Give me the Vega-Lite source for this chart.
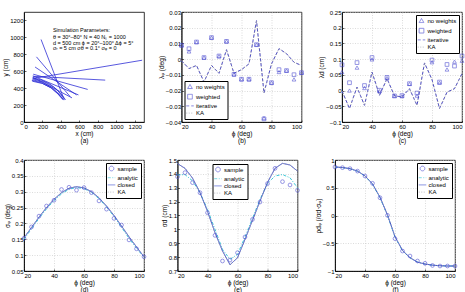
{
  "$schema": "https://vega.github.io/schema/vega-lite/v6.json",
  "padding": {"left": 2, "top": 8, "right": 0, "bottom": 0},
  "spacing": 12,
  "config": {
    "font": "Liberation Sans",
    "view": {"stroke": "black", "strokeWidth": 0.8},
    "axis": {
      "labelFontSize": 6, "titleFontSize": 6.5, "titleFontWeight": "normal",
      "labelColor": "black", "titleColor": "black",
      "domainColor": "black", "domainWidth": 0.8,
      "tickColor": "black", "tickSize": -2, "tickWidth": 0.6,
      "labelPadding": 3, "titlePadding": 1, "titleLineHeight": 7,
      "labelOverlap": false,
      "gridColor": "#c4c4c4", "gridDash": [1, 1.5], "gridWidth": 0.6
    },
    "legend": {
      "labelFontSize": 6, "labelColor": "black", "labelOffset": 3,
      "strokeColor": "black", "fillColor": "white", "padding": 2.5,
      "rowPadding": 1.2, "symbolSize": 22, "symbolStrokeWidth": 0.9,
      "offset": 3
    }
  },
  "resolve": {
    "scale": {"x": "independent", "y": "independent", "color": "independent", "shape": "independent", "strokeDash": "independent"},
    "legend": {"color": "independent", "shape": "independent", "strokeDash": "independent"}
  },
  "datasets": {
    "traj": [
      {"id": 1, "x": 100, "y": 515}, {"id": 1, "x": 1280, "y": 730},
      {"id": 2, "x": 185, "y": 975}, {"id": 2, "x": 430, "y": 280},
      {"id": 3, "x": 135, "y": 770}, {"id": 3, "x": 500, "y": 300},
      {"id": 4, "x": 120, "y": 650}, {"id": 4, "x": 570, "y": 320},
      {"id": 5, "x": 100, "y": 540}, {"id": 5, "x": 880, "y": 495},
      {"id": 6, "x": 100, "y": 565}, {"id": 6, "x": 690, "y": 385},
      {"id": 7, "x": 95, "y": 545}, {"id": 7, "x": 590, "y": 320},
      {"id": 8, "x": 95, "y": 530}, {"id": 8, "x": 520, "y": 285},
      {"id": 9, "x": 90, "y": 520}, {"id": 9, "x": 180, "y": 500}, {"id": 9, "x": 280, "y": 450}, {"id": 9, "x": 360, "y": 380}, {"id": 9, "x": 440, "y": 265},
      {"id": 10, "x": 90, "y": 500}, {"id": 10, "x": 200, "y": 470}, {"id": 10, "x": 300, "y": 410}, {"id": 10, "x": 380, "y": 330}, {"id": 10, "x": 430, "y": 258},
      {"id": 11, "x": 90, "y": 482}, {"id": 11, "x": 200, "y": 455}, {"id": 11, "x": 300, "y": 400}, {"id": 11, "x": 370, "y": 330}, {"id": 11, "x": 420, "y": 270},
      {"id": 12, "x": 95, "y": 510}, {"id": 12, "x": 210, "y": 478}, {"id": 12, "x": 320, "y": 415}, {"id": 12, "x": 400, "y": 335}, {"id": 12, "x": 450, "y": 262},
      {"id": 13, "x": 85, "y": 492}, {"id": 13, "x": 190, "y": 462}, {"id": 13, "x": 290, "y": 405}, {"id": 13, "x": 360, "y": 340}, {"id": 13, "x": 425, "y": 262}
    ],
    "notes": [
      {"x": 313, "y": 1090, "t": "Simulation Parameters:"},
      {"x": 313, "y": 1003, "t": "θ  = 30°–80°   N = 40   Nₛ = 1000"},
      {"x": 313, "y": 936, "t": "d = 500 cm  ϕ = 20°–100°  Δϕ = 5°"},
      {"x": 313, "y": 872, "t": "σᵣ = 5 cm   σθ = 0.1°   σᵩ = 0"}
    ],
    "lamPhi": [
      {"phi": 20, "s": "no weights", "v": 0.0088}, {"phi": 25, "s": "no weights", "v": 0.0049}, {"phi": 30, "s": "no weights", "v": 0.0109}, {"phi": 35, "s": "no weights", "v": 0.001}, {"phi": 40, "s": "no weights", "v": 0.0137}, {"phi": 45, "s": "no weights", "v": 0.0018}, {"phi": 50, "s": "no weights", "v": 0.0113}, {"phi": 55, "s": "no weights", "v": -0.0097}, {"phi": 60, "s": "no weights", "v": -0.0128}, {"phi": 65, "s": "no weights", "v": -0.0128}, {"phi": 70, "s": "no weights", "v": 0.0092}, {"phi": 75, "s": "no weights", "v": -0.0375}, {"phi": 80, "s": "no weights", "v": -0.015}, {"phi": 85, "s": "no weights", "v": -0.0082}, {"phi": 90, "s": "no weights", "v": -0.0073}, {"phi": 95, "s": "no weights", "v": -0.0129}, {"phi": 100, "s": "no weights", "v": -0.0086},
      {"phi": 20, "s": "weighted", "v": 0.0088}, {"phi": 25, "s": "weighted", "v": 0.0066}, {"phi": 30, "s": "weighted", "v": 0.0109}, {"phi": 35, "s": "weighted", "v": 0.001}, {"phi": 40, "s": "weighted", "v": 0.0137}, {"phi": 45, "s": "weighted", "v": 0.002}, {"phi": 50, "s": "weighted", "v": 0.0113}, {"phi": 55, "s": "weighted", "v": -0.0097}, {"phi": 60, "s": "weighted", "v": -0.0128}, {"phi": 65, "s": "weighted", "v": -0.0128}, {"phi": 70, "s": "weighted", "v": 0.0092}, {"phi": 75, "s": "weighted", "v": -0.038}, {"phi": 80, "s": "weighted", "v": -0.015}, {"phi": 85, "s": "weighted", "v": -0.0067}, {"phi": 90, "s": "weighted", "v": -0.0073}, {"phi": 95, "s": "weighted", "v": -0.0099}, {"phi": 100, "s": "weighted", "v": -0.0086},
      {"phi": 20, "s": "iterative", "v": -0.001}, {"phi": 25, "s": "iterative", "v": -0.006}, {"phi": 30, "s": "iterative", "v": -0.004}, {"phi": 35, "s": "iterative", "v": -0.0145}, {"phi": 40, "s": "iterative", "v": -0.004}, {"phi": 45, "s": "iterative", "v": -0.009}, {"phi": 50, "s": "iterative", "v": 0.006}, {"phi": 55, "s": "iterative", "v": -0.009}, {"phi": 60, "s": "iterative", "v": -0.0067}, {"phi": 65, "s": "iterative", "v": -0.003}, {"phi": 70, "s": "iterative", "v": 0.0245}, {"phi": 75, "s": "iterative", "v": -0.0215}, {"phi": 80, "s": "iterative", "v": -0.003}, {"phi": 85, "s": "iterative", "v": 0.0067}, {"phi": 90, "s": "iterative", "v": 0.0035}, {"phi": 95, "s": "iterative", "v": -0.002}, {"phi": 100, "s": "iterative", "v": -0.004},
      {"phi": 20, "s": "KA", "v": -0.001}, {"phi": 25, "s": "KA", "v": -0.006}, {"phi": 30, "s": "KA", "v": -0.004}, {"phi": 35, "s": "KA", "v": -0.0145}, {"phi": 40, "s": "KA", "v": -0.004}, {"phi": 45, "s": "KA", "v": -0.009}, {"phi": 50, "s": "KA", "v": 0.006}, {"phi": 55, "s": "KA", "v": -0.009}, {"phi": 60, "s": "KA", "v": -0.0067}, {"phi": 65, "s": "KA", "v": -0.003}, {"phi": 70, "s": "KA", "v": 0.0245}, {"phi": 75, "s": "KA", "v": -0.0215}, {"phi": 80, "s": "KA", "v": -0.003}, {"phi": 85, "s": "KA", "v": 0.0067}, {"phi": 90, "s": "KA", "v": 0.0035}, {"phi": 95, "s": "KA", "v": -0.002}, {"phi": 100, "s": "KA", "v": -0.004}
    ],
    "lamD": [
      {"phi": 20, "s": "no weights", "v": 0.059}, {"phi": 25, "s": "no weights", "v": 0.0}, {"phi": 30, "s": "no weights", "v": 0.073}, {"phi": 35, "s": "no weights", "v": 0.008}, {"phi": 40, "s": "no weights", "v": 0.099}, {"phi": 45, "s": "no weights", "v": -0.002}, {"phi": 50, "s": "no weights", "v": 0.04}, {"phi": 55, "s": "no weights", "v": -0.017}, {"phi": 60, "s": "no weights", "v": -0.018}, {"phi": 65, "s": "no weights", "v": 0.021}, {"phi": 70, "s": "no weights", "v": -0.016}, {"phi": 80, "s": "no weights", "v": 0.09}, {"phi": 85, "s": "no weights", "v": 0.025}, {"phi": 90, "s": "no weights", "v": 0.067}, {"phi": 95, "s": "no weights", "v": 0.092}, {"phi": 100, "s": "no weights", "v": 0.095},
      {"phi": 20, "s": "weighted", "v": 0.082}, {"phi": 25, "s": "weighted", "v": 0.025}, {"phi": 30, "s": "weighted", "v": 0.089}, {"phi": 35, "s": "weighted", "v": 0.016}, {"phi": 40, "s": "weighted", "v": 0.105}, {"phi": 45, "s": "weighted", "v": 0.001}, {"phi": 50, "s": "weighted", "v": 0.042}, {"phi": 55, "s": "weighted", "v": -0.017}, {"phi": 60, "s": "weighted", "v": -0.016}, {"phi": 65, "s": "weighted", "v": 0.022}, {"phi": 70, "s": "weighted", "v": -0.008}, {"phi": 80, "s": "weighted", "v": 0.097}, {"phi": 85, "s": "weighted", "v": 0.027}, {"phi": 90, "s": "weighted", "v": 0.083}, {"phi": 95, "s": "weighted", "v": 0.078}, {"phi": 100, "s": "weighted", "v": 0.11},
      {"phi": 20, "s": "iterative", "v": -0.001}, {"phi": 25, "s": "iterative", "v": -0.057}, {"phi": 30, "s": "iterative", "v": 0.011}, {"phi": 35, "s": "iterative", "v": -0.047}, {"phi": 40, "s": "iterative", "v": 0.059}, {"phi": 45, "s": "iterative", "v": -0.015}, {"phi": 50, "s": "iterative", "v": 0.038}, {"phi": 55, "s": "iterative", "v": -0.017}, {"phi": 60, "s": "iterative", "v": -0.02}, {"phi": 65, "s": "iterative", "v": 0.006}, {"phi": 70, "s": "iterative", "v": -0.047}, {"phi": 75, "s": "iterative", "v": 0.088}, {"phi": 80, "s": "iterative", "v": 0.035}, {"phi": 85, "s": "iterative", "v": -0.057}, {"phi": 90, "s": "iterative", "v": -0.005}, {"phi": 95, "s": "iterative", "v": 0.006}, {"phi": 100, "s": "iterative", "v": 0.054},
      {"phi": 20, "s": "KA", "v": -0.001}, {"phi": 25, "s": "KA", "v": -0.057}, {"phi": 30, "s": "KA", "v": 0.011}, {"phi": 35, "s": "KA", "v": -0.047}, {"phi": 40, "s": "KA", "v": 0.059}, {"phi": 45, "s": "KA", "v": -0.015}, {"phi": 50, "s": "KA", "v": 0.038}, {"phi": 55, "s": "KA", "v": -0.017}, {"phi": 60, "s": "KA", "v": -0.02}, {"phi": 65, "s": "KA", "v": 0.006}, {"phi": 70, "s": "KA", "v": -0.047}, {"phi": 75, "s": "KA", "v": 0.088}, {"phi": 80, "s": "KA", "v": 0.035}, {"phi": 85, "s": "KA", "v": -0.057}, {"phi": 90, "s": "KA", "v": -0.005}, {"phi": 95, "s": "KA", "v": 0.006}, {"phi": 100, "s": "KA", "v": 0.054}
    ],
    "sigPhi": [
      {"phi": 20, "s": "sample", "v": 0.153}, {"phi": 25, "s": "sample", "v": 0.189}, {"phi": 30, "s": "sample", "v": 0.223}, {"phi": 35, "s": "sample", "v": 0.255}, {"phi": 40, "s": "sample", "v": 0.273}, {"phi": 45, "s": "sample", "v": 0.307}, {"phi": 50, "s": "sample", "v": 0.314}, {"phi": 55, "s": "sample", "v": 0.305}, {"phi": 60, "s": "sample", "v": 0.313}, {"phi": 65, "s": "sample", "v": 0.297}, {"phi": 70, "s": "sample", "v": 0.271}, {"phi": 75, "s": "sample", "v": 0.245}, {"phi": 80, "s": "sample", "v": 0.216}, {"phi": 85, "s": "sample", "v": 0.195}, {"phi": 90, "s": "sample", "v": 0.148}, {"phi": 95, "s": "sample", "v": 0.12}, {"phi": 100, "s": "sample", "v": 0.095},
      {"phi": 20, "s": "analytic", "v": 0.15}, {"phi": 25, "s": "analytic", "v": 0.183}, {"phi": 30, "s": "analytic", "v": 0.216}, {"phi": 35, "s": "analytic", "v": 0.246}, {"phi": 40, "s": "analytic", "v": 0.272}, {"phi": 45, "s": "analytic", "v": 0.293}, {"phi": 50, "s": "analytic", "v": 0.308}, {"phi": 55, "s": "analytic", "v": 0.313}, {"phi": 60, "s": "analytic", "v": 0.31}, {"phi": 65, "s": "analytic", "v": 0.298}, {"phi": 70, "s": "analytic", "v": 0.278}, {"phi": 75, "s": "analytic", "v": 0.252}, {"phi": 80, "s": "analytic", "v": 0.222}, {"phi": 85, "s": "analytic", "v": 0.188}, {"phi": 90, "s": "analytic", "v": 0.153}, {"phi": 95, "s": "analytic", "v": 0.122}, {"phi": 100, "s": "analytic", "v": 0.093},
      {"phi": 20, "s": "closed", "v": 0.155}, {"phi": 25, "s": "closed", "v": 0.187}, {"phi": 30, "s": "closed", "v": 0.22}, {"phi": 35, "s": "closed", "v": 0.25}, {"phi": 40, "s": "closed", "v": 0.276}, {"phi": 45, "s": "closed", "v": 0.297}, {"phi": 50, "s": "closed", "v": 0.311}, {"phi": 55, "s": "closed", "v": 0.316}, {"phi": 60, "s": "closed", "v": 0.312}, {"phi": 65, "s": "closed", "v": 0.3}, {"phi": 70, "s": "closed", "v": 0.281}, {"phi": 75, "s": "closed", "v": 0.255}, {"phi": 80, "s": "closed", "v": 0.225}, {"phi": 85, "s": "closed", "v": 0.192}, {"phi": 90, "s": "closed", "v": 0.158}, {"phi": 95, "s": "closed", "v": 0.126}, {"phi": 100, "s": "closed", "v": 0.095},
      {"phi": 20, "s": "KA", "v": 0.155}, {"phi": 25, "s": "KA", "v": 0.187}, {"phi": 30, "s": "KA", "v": 0.22}, {"phi": 35, "s": "KA", "v": 0.25}, {"phi": 40, "s": "KA", "v": 0.276}, {"phi": 45, "s": "KA", "v": 0.297}, {"phi": 50, "s": "KA", "v": 0.311}, {"phi": 55, "s": "KA", "v": 0.316}, {"phi": 60, "s": "KA", "v": 0.312}, {"phi": 65, "s": "KA", "v": 0.3}, {"phi": 70, "s": "KA", "v": 0.281}, {"phi": 75, "s": "KA", "v": 0.255}, {"phi": 80, "s": "KA", "v": 0.225}, {"phi": 85, "s": "KA", "v": 0.192}, {"phi": 90, "s": "KA", "v": 0.158}, {"phi": 95, "s": "KA", "v": 0.126}, {"phi": 100, "s": "KA", "v": 0.095}
    ],
    "sigD": [
      {"phi": 20, "s": "sample", "v": 1.38}, {"phi": 25, "s": "sample", "v": 1.409}, {"phi": 30, "s": "sample", "v": 1.337}, {"phi": 35, "s": "sample", "v": 1.264}, {"phi": 40, "s": "sample", "v": 1.12}, {"phi": 45, "s": "sample", "v": 0.957}, {"phi": 50, "s": "sample", "v": 0.772}, {"phi": 55, "s": "sample", "v": 0.779}, {"phi": 60, "s": "sample", "v": 0.832}, {"phi": 65, "s": "sample", "v": 0.945}, {"phi": 70, "s": "sample", "v": 1.072}, {"phi": 75, "s": "sample", "v": 1.197}, {"phi": 80, "s": "sample", "v": 1.33}, {"phi": 85, "s": "sample", "v": 1.44}, {"phi": 90, "s": "sample", "v": 1.344}, {"phi": 95, "s": "sample", "v": 1.32}, {"phi": 100, "s": "sample", "v": 1.281},
      {"phi": 20, "s": "analytic", "v": 1.392}, {"phi": 25, "s": "analytic", "v": 1.395}, {"phi": 30, "s": "analytic", "v": 1.35}, {"phi": 35, "s": "analytic", "v": 1.264}, {"phi": 40, "s": "analytic", "v": 1.144}, {"phi": 45, "s": "analytic", "v": 1.0}, {"phi": 50, "s": "analytic", "v": 0.856}, {"phi": 55, "s": "analytic", "v": 0.784}, {"phi": 60, "s": "analytic", "v": 0.82}, {"phi": 65, "s": "analytic", "v": 0.945}, {"phi": 70, "s": "analytic", "v": 1.08}, {"phi": 75, "s": "analytic", "v": 1.216}, {"phi": 80, "s": "analytic", "v": 1.33}, {"phi": 85, "s": "analytic", "v": 1.385}, {"phi": 90, "s": "analytic", "v": 1.395}, {"phi": 95, "s": "analytic", "v": 1.372}, {"phi": 100, "s": "analytic", "v": 1.3},
      {"phi": 20, "s": "closed", "v": 1.474}, {"phi": 25, "s": "closed", "v": 1.44}, {"phi": 30, "s": "closed", "v": 1.37}, {"phi": 35, "s": "closed", "v": 1.265}, {"phi": 40, "s": "closed", "v": 1.13}, {"phi": 45, "s": "closed", "v": 0.976}, {"phi": 50, "s": "closed", "v": 0.844}, {"phi": 55, "s": "closed", "v": 0.745}, {"phi": 60, "s": "closed", "v": 0.795}, {"phi": 65, "s": "closed", "v": 0.928}, {"phi": 70, "s": "closed", "v": 1.065}, {"phi": 75, "s": "closed", "v": 1.204}, {"phi": 80, "s": "closed", "v": 1.337}, {"phi": 85, "s": "closed", "v": 1.44}, {"phi": 90, "s": "closed", "v": 1.476}, {"phi": 95, "s": "closed", "v": 1.464}, {"phi": 100, "s": "closed", "v": 1.42},
      {"phi": 20, "s": "KA", "v": 1.474}, {"phi": 25, "s": "KA", "v": 1.44}, {"phi": 30, "s": "KA", "v": 1.37}, {"phi": 35, "s": "KA", "v": 1.265}, {"phi": 40, "s": "KA", "v": 1.13}, {"phi": 45, "s": "KA", "v": 0.976}, {"phi": 50, "s": "KA", "v": 0.844}, {"phi": 55, "s": "KA", "v": 0.745}, {"phi": 60, "s": "KA", "v": 0.795}, {"phi": 65, "s": "KA", "v": 0.928}, {"phi": 70, "s": "KA", "v": 1.065}, {"phi": 75, "s": "KA", "v": 1.204}, {"phi": 80, "s": "KA", "v": 1.337}, {"phi": 85, "s": "KA", "v": 1.44}, {"phi": 90, "s": "KA", "v": 1.476}, {"phi": 95, "s": "KA", "v": 1.464}, {"phi": 100, "s": "KA", "v": 1.42}
    ],
    "rho": [
      {"phi": 20, "s": "sample", "v": 0.874}, {"phi": 25, "s": "sample", "v": 0.862}, {"phi": 30, "s": "sample", "v": 0.844}, {"phi": 35, "s": "sample", "v": 0.8}, {"phi": 40, "s": "sample", "v": 0.712}, {"phi": 45, "s": "sample", "v": 0.58}, {"phi": 50, "s": "sample", "v": 0.32}, {"phi": 55, "s": "sample", "v": 0.003}, {"phi": 60, "s": "sample", "v": -0.417}, {"phi": 65, "s": "sample", "v": -0.64}, {"phi": 70, "s": "sample", "v": -0.73}, {"phi": 75, "s": "sample", "v": -0.82}, {"phi": 80, "s": "sample", "v": -0.862}, {"phi": 85, "s": "sample", "v": -0.9}, {"phi": 90, "s": "sample", "v": -0.91}, {"phi": 95, "s": "sample", "v": -0.91}, {"phi": 100, "s": "sample", "v": -0.91},
      {"phi": 20, "s": "analytic", "v": 0.872}, {"phi": 25, "s": "analytic", "v": 0.862}, {"phi": 30, "s": "analytic", "v": 0.842}, {"phi": 35, "s": "analytic", "v": 0.797}, {"phi": 40, "s": "analytic", "v": 0.71}, {"phi": 45, "s": "analytic", "v": 0.562}, {"phi": 50, "s": "analytic", "v": 0.32}, {"phi": 55, "s": "analytic", "v": 0.0}, {"phi": 60, "s": "analytic", "v": -0.39}, {"phi": 65, "s": "analytic", "v": -0.635}, {"phi": 70, "s": "analytic", "v": -0.762}, {"phi": 75, "s": "analytic", "v": -0.838}, {"phi": 80, "s": "analytic", "v": -0.875}, {"phi": 85, "s": "analytic", "v": -0.895}, {"phi": 90, "s": "analytic", "v": -0.905}, {"phi": 95, "s": "analytic", "v": -0.91}, {"phi": 100, "s": "analytic", "v": -0.91},
      {"phi": 20, "s": "closed", "v": 0.875}, {"phi": 25, "s": "closed", "v": 0.865}, {"phi": 30, "s": "closed", "v": 0.845}, {"phi": 35, "s": "closed", "v": 0.8}, {"phi": 40, "s": "closed", "v": 0.715}, {"phi": 45, "s": "closed", "v": 0.57}, {"phi": 50, "s": "closed", "v": 0.33}, {"phi": 55, "s": "closed", "v": 0.01}, {"phi": 60, "s": "closed", "v": -0.38}, {"phi": 65, "s": "closed", "v": -0.63}, {"phi": 70, "s": "closed", "v": -0.76}, {"phi": 75, "s": "closed", "v": -0.84}, {"phi": 80, "s": "closed", "v": -0.875}, {"phi": 85, "s": "closed", "v": -0.895}, {"phi": 90, "s": "closed", "v": -0.905}, {"phi": 95, "s": "closed", "v": -0.91}, {"phi": 100, "s": "closed", "v": -0.91},
      {"phi": 20, "s": "KA", "v": 0.875}, {"phi": 25, "s": "KA", "v": 0.865}, {"phi": 30, "s": "KA", "v": 0.845}, {"phi": 35, "s": "KA", "v": 0.8}, {"phi": 40, "s": "KA", "v": 0.715}, {"phi": 45, "s": "KA", "v": 0.57}, {"phi": 50, "s": "KA", "v": 0.33}, {"phi": 55, "s": "KA", "v": 0.01}, {"phi": 60, "s": "KA", "v": -0.38}, {"phi": 65, "s": "KA", "v": -0.63}, {"phi": 70, "s": "KA", "v": -0.76}, {"phi": 75, "s": "KA", "v": -0.84}, {"phi": 80, "s": "KA", "v": -0.875}, {"phi": 85, "s": "KA", "v": -0.895}, {"phi": 90, "s": "KA", "v": -0.905}, {"phi": 95, "s": "KA", "v": -0.91}, {"phi": 100, "s": "KA", "v": -0.91}
    ]
  },
  "vconcat": [
    {
      "spacing": 12.5,
      "resolve": {
        "scale": {"x": "independent", "y": "independent", "color": "independent", "shape": "independent", "strokeDash": "independent"},
        "legend": {"color": "independent", "shape": "independent", "strokeDash": "independent"}
      },
      "hconcat": [
        {
          "width": 120, "height": 110,
          "encoding": {
            "x": {"field": "x", "type": "quantitative", "scale": {"domain": [0, 1300], "nice": false, "zero": true},
                  "axis": {"values": [0, 200, 400, 600, 800, 1000, 1200], "format": "d", "grid": false, "title": ["x (cm)", "(a)"]}},
            "y": {"field": "y", "type": "quantitative", "scale": {"domain": [0, 1300], "nice": false, "zero": true},
                  "axis": {"values": [0, 200, 400, 600, 800, 1000, 1200], "format": "d", "grid": false, "title": "y (cm)"}}
          },
          "layer": [
            {
              "data": {"name": "traj"},
              "mark": {"type": "line", "color": "#2e2ed6", "strokeWidth": 0.8},
              "encoding": {
                "detail": {"field": "id"},
                "order": {"field": "x", "type": "quantitative"}
              }
            },
            {
              "data": {"name": "notes"},
              "mark": {"type": "text", "align": "left", "baseline": "middle", "fontSize": 5.5, "color": "black"},
              "encoding": {
                "text": {"field": "t"}
              }
            }
          ]
        },
        {
          "width": 120, "height": 110,
          "data": {"name": "lamPhi"},
          "encoding": {
            "x": {"field": "phi", "type": "quantitative", "scale": {"domain": [20, 100], "nice": false},
                  "axis": {"values": [20, 40, 60, 80, 100], "title": ["ϕ (deg)", "(b)"]}},
            "y": {"field": "v", "type": "quantitative", "scale": {"domain": [-0.04, 0.03], "nice": false},
                  "axis": {"values": [-0.04, -0.03, -0.02, -0.01, 0, 0.01, 0.02, 0.03], "format": ".2~f", "title": "λᵩ (deg)"}},
            "color": {"field": "s", "type": "nominal",
                      "scale": {"domain": ["no weights", "weighted", "iterative", "KA"], "range": ["#4646cf", "#4646cf", "#4444d0", "#9a9aa8"]},
                      "legend": {"title": null, "orient": "bottom-left", "offset": 3}}
          },
          "layer": [
            {
              "transform": [{"filter": "datum.s == 'iterative' || datum.s == 'KA'"}],
              "mark": {"type": "line", "strokeWidth": 1},
              "encoding": {
                "strokeDash": {"field": "s", "type": "nominal",
                               "scale": {"domain": ["no weights", "weighted", "iterative", "KA"], "range": [[1, 0], [1, 0], [3, 2], [1, 1.5]]},
                               "legend": {"title": null, "orient": "bottom-left", "offset": 3}}
              }
            },
            {
              "transform": [{"filter": "datum.s == 'no weights' || datum.s == 'weighted'"}],
              "mark": {"type": "point", "filled": false, "size": 14, "strokeWidth": 0.8},
              "encoding": {
                "shape": {"field": "s", "type": "nominal",
                          "scale": {"domain": ["no weights", "weighted", "iterative", "KA"], "range": ["triangle-up", "square", "M-1.6,0H1.6", "M-1.6,0H1.6"]},
                          "legend": {"title": null, "orient": "bottom-left", "offset": 3}}
              }
            }
          ]
        },
        {
          "width": 120, "height": 110,
          "data": {"name": "lamD"},
          "encoding": {
            "x": {"field": "phi", "type": "quantitative", "scale": {"domain": [20, 100], "nice": false},
                  "axis": {"values": [20, 40, 60, 80, 100], "title": ["ϕ (deg)", "(c)"]}},
            "y": {"field": "v", "type": "quantitative", "scale": {"domain": [-0.1, 0.25], "nice": false},
                  "axis": {"values": [-0.1, -0.05, 0, 0.05, 0.1, 0.15, 0.2, 0.25], "format": ".2~f", "title": "λd (cm)"}},
            "color": {"field": "s", "type": "nominal",
                      "scale": {"domain": ["no weights", "weighted", "iterative", "KA"], "range": ["#4646cf", "#4646cf", "#4444d0", "#9a9aa8"]},
                      "legend": {"title": null, "orient": "top-right", "offset": 3}}
          },
          "layer": [
            {
              "transform": [{"filter": "datum.s == 'iterative' || datum.s == 'KA'"}],
              "mark": {"type": "line", "strokeWidth": 1},
              "encoding": {
                "strokeDash": {"field": "s", "type": "nominal",
                               "scale": {"domain": ["no weights", "weighted", "iterative", "KA"], "range": [[1, 0], [1, 0], [3, 2], [1, 1.5]]},
                               "legend": {"title": null, "orient": "top-right", "offset": 3}}
              }
            },
            {
              "transform": [{"filter": "datum.s == 'no weights' || datum.s == 'weighted'"}],
              "mark": {"type": "point", "filled": false, "size": 14, "strokeWidth": 0.8},
              "encoding": {
                "shape": {"field": "s", "type": "nominal",
                          "scale": {"domain": ["no weights", "weighted", "iterative", "KA"], "range": ["triangle-up", "square", "M-1.6,0H1.6", "M-1.6,0H1.6"]},
                          "legend": {"title": null, "orient": "top-right", "offset": 3}}
              }
            }
          ]
        }
      ]
    },
    {
      "spacing": 12.5,
      "resolve": {
        "scale": {"x": "independent", "y": "independent", "color": "independent", "shape": "independent", "strokeDash": "independent"},
        "legend": {"color": "independent", "shape": "independent", "strokeDash": "independent"}
      },
      "hconcat": [
        {
          "width": 120, "height": 111,
          "data": {"name": "sigPhi"},
          "encoding": {
            "x": {"field": "phi", "type": "quantitative", "scale": {"domain": [20, 100], "nice": false},
                  "axis": {"values": [20, 40, 60, 80, 100], "title": ["ϕ (deg)", "(d)"]}},
            "y": {"field": "v", "type": "quantitative", "scale": {"domain": [0.05, 0.4], "nice": false},
                  "axis": {"values": [0.05, 0.1, 0.15, 0.2, 0.25, 0.3, 0.35, 0.4], "format": ".2~f", "title": "σᵩ (deg)"}},
            "color": {"field": "s", "type": "nominal",
                      "scale": {"domain": ["sample", "analytic", "closed", "KA"], "range": ["#4646cf", "#3cc8d8", "#3a4cd0", "#9a9aa8"]},
                      "legend": {"title": null, "orient": "top-right", "offset": 3}}
          },
          "layer": [
            {
              "transform": [{"filter": "datum.s != 'sample'"}],
              "mark": {"type": "line", "strokeWidth": 1},
              "encoding": {
                "strokeDash": {"field": "s", "type": "nominal",
                               "scale": {"domain": ["sample", "analytic", "closed", "KA"], "range": [[1, 0], [3, 1.5, 1, 1.5], [1, 0], [1, 1.5]]},
                               "legend": {"title": null, "orient": "top-right", "offset": 3}}
              }
            },
            {
              "transform": [{"filter": "datum.s == 'sample'"}],
              "mark": {"type": "point", "filled": false, "size": 14, "strokeWidth": 0.8},
              "encoding": {
                "shape": {"field": "s", "type": "nominal",
                          "scale": {"domain": ["sample", "analytic", "closed", "KA"], "range": ["circle", "M-1.6,0H1.6", "M-1.6,0H1.6", "M-1.6,0H1.6"]},
                          "legend": {"title": null, "orient": "top-right", "offset": 3}}
              }
            }
          ]
        },
        {
          "width": 120, "height": 111,
          "data": {"name": "sigD"},
          "encoding": {
            "x": {"field": "phi", "type": "quantitative", "scale": {"domain": [20, 100], "nice": false},
                  "axis": {"values": [20, 40, 60, 80, 100], "title": ["ϕ (deg)", "(e)"]}},
            "y": {"field": "v", "type": "quantitative", "scale": {"domain": [0.7, 1.5], "nice": false},
                  "axis": {"values": [0.7, 0.8, 0.9, 1, 1.1, 1.2, 1.3, 1.4, 1.5], "format": ".1~f", "title": "σd (cm)"}},
            "color": {"field": "s", "type": "nominal",
                      "scale": {"domain": ["sample", "analytic", "closed", "KA"], "range": ["#4646cf", "#3cc8d8", "#3a4cd0", "#9a9aa8"]},
                      "legend": {"title": null, "orient": "none", "legendX": 35, "legendY": 4}}
          },
          "layer": [
            {
              "transform": [{"filter": "datum.s != 'sample'"}],
              "mark": {"type": "line", "strokeWidth": 1},
              "encoding": {
                "strokeDash": {"field": "s", "type": "nominal",
                               "scale": {"domain": ["sample", "analytic", "closed", "KA"], "range": [[1, 0], [3, 1.5, 1, 1.5], [1, 0], [1, 1.5]]},
                               "legend": {"title": null, "orient": "none", "legendX": 35, "legendY": 4}}
              }
            },
            {
              "transform": [{"filter": "datum.s == 'sample'"}],
              "mark": {"type": "point", "filled": false, "size": 14, "strokeWidth": 0.8},
              "encoding": {
                "shape": {"field": "s", "type": "nominal",
                          "scale": {"domain": ["sample", "analytic", "closed", "KA"], "range": ["circle", "M-1.6,0H1.6", "M-1.6,0H1.6", "M-1.6,0H1.6"]},
                          "legend": {"title": null, "orient": "none", "legendX": 35, "legendY": 4}}
              }
            }
          ]
        },
        {
          "width": 120, "height": 111,
          "data": {"name": "rho"},
          "encoding": {
            "x": {"field": "phi", "type": "quantitative", "scale": {"domain": [20, 100], "nice": false},
                  "axis": {"values": [20, 40, 60, 80, 100], "title": ["ϕ (deg)", "(f)"]}},
            "y": {"field": "v", "type": "quantitative", "scale": {"domain": [-1, 1], "nice": false},
                  "axis": {"values": [-1, -0.5, 0, 0.5, 1], "format": ".1~f", "title": "ρdᵩ (/σd·σᵩ)"}},
            "color": {"field": "s", "type": "nominal",
                      "scale": {"domain": ["sample", "analytic", "closed", "KA"], "range": ["#4646cf", "#3cc8d8", "#3a4cd0", "#9a9aa8"]},
                      "legend": {"title": null, "orient": "top-right", "offset": 3}}
          },
          "layer": [
            {
              "transform": [{"filter": "datum.s != 'sample'"}],
              "mark": {"type": "line", "strokeWidth": 1},
              "encoding": {
                "strokeDash": {"field": "s", "type": "nominal",
                               "scale": {"domain": ["sample", "analytic", "closed", "KA"], "range": [[1, 0], [3, 1.5, 1, 1.5], [1, 0], [1, 1.5]]},
                               "legend": {"title": null, "orient": "top-right", "offset": 3}}
              }
            },
            {
              "transform": [{"filter": "datum.s == 'sample'"}],
              "mark": {"type": "point", "filled": false, "size": 14, "strokeWidth": 0.8},
              "encoding": {
                "shape": {"field": "s", "type": "nominal",
                          "scale": {"domain": ["sample", "analytic", "closed", "KA"], "range": ["circle", "M-1.6,0H1.6", "M-1.6,0H1.6", "M-1.6,0H1.6"]},
                          "legend": {"title": null, "orient": "top-right", "offset": 3}}
              }
            }
          ]
        }
      ]
    }
  ]
}
